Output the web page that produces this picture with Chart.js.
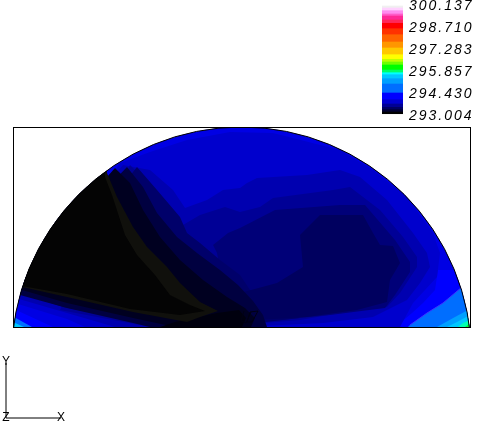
<!DOCTYPE html>
<html>
<head>
<meta charset="utf-8">
<script src="https://cdn.jsdelivr.net/npm/chart.js@4"></script>
<style>
html,body{margin:0;padding:0;background:#fff;width:480px;height:436px;overflow:hidden}
canvas{position:absolute;display:block}
#field{left:0;top:0}
#bar{left:370px;top:0}
#triad{left:0;top:350px}
</style>
</head>
<body>
<canvas id="field" width="480" height="436"></canvas>
<canvas id="bar" width="110" height="125"></canvas>
<canvas id="triad" width="80" height="80"></canvas>
<script>
// Colour-scale data
const tickLabels = [293.004, 294.430, 295.857, 297.283, 298.710, 300.137];
const bandEdges = [293.088,293.199,293.348,293.503,293.717,293.996,294.431,295.014,295.358,295.617,295.747,295.922,296.247,296.441,296.616,296.914,297.349,297.738,298.211,298.600,298.951,299.165,299.424,299.554,299.768,299.943,300.073];
const bandColors = ['#000000','#000032','#000064','#000096','#0000d2','#0000ff','#006eff','#00a0ff','#00c8ff','#00ffff','#00ff64','#00ff00','#6eff00','#beff00','#ffff00','#ffc800','#ff9600','#ff6400','#ff3200','#ff0000','#ff285a','#ff2896','#ff5ac8','#ff8cf0','#ffd2ff','#f0f0f0'];

// Contour regions in model units, outermost first
const fullField = [[0,0],[457,0],[457,200],[0,200]];
const cornerR1 = [[425,57],[422,37],[410,24],[399,14],[387,4],[387,0],[457,0],[457,57]];
const cornerR2 = [[449,40],[430,24],[414,14],[397,2],[395,0],[457,0],[457,40]];
const cornerR3 = [[455,17],[442,10],[424,0],[457,0],[457,17]];
const cornerR4 = [[457,12],[444,5],[434,0],[457,0]];
const cornerR5 = [[457,7],[450,4],[445,0],[457,0]];
const cornerR6 = [[457,4],[452,0],[457,0]];
const cornerL1 = [[0,22],[3,17],[40,0],[0,0]];
const cornerL2 = [[0,14],[1,10],[19,0],[0,0]];
const cornerL3 = [[0,5],[11,0],[0,0]];
const level2 = [[105,161],[107,164],[137,175],[174,187],[217,195],[260,194],[327,177],[360,157],[394,130],[420,94],[427,74],[424,50],[400,24],[387,0],[72,0],[54,8],[5,23],[0,32]];
const level3 = [[110,162],[137,157],[160,137],[172,119],[194,127],[210,137],[227,139],[234,144],[244,149],[294,152],[327,157],[347,150],[374,127],[400,94],[414,74],[417,60],[407,44],[394,27],[360,10],[310,4],[227,0],[102,0],[54,14],[6,28],[0,37]];
const level4 = [[117,162],[132,147],[152,124],[170,102],[187,112],[212,120],[227,115],[247,120],[260,129],[320,137],[337,140],[367,117],[390,90],[404,70],[404,60],[387,34],[374,20],[344,17],[287,7],[227,2],[137,0],[47,17]];
const level5 = [[215,94],[227,99],[262,117],[327,122],[352,122],[382,87],[397,65],[397,55],[382,32],[372,19],[317,12],[247,5],[227,2],[212,27],[204,74],[200,82]];
const diag0 = [[124,160],[144,137],[167,110],[174,94],[187,84],[207,67],[227,52],[237,37],[287,9],[227,2],[150,0],[50,20],[20,30]];
const level6 = [[307,112],[350,112],[360,94],[367,82],[380,81],[387,64],[377,47],[374,25],[344,17],[294,10],[244,7],[207,5],[197,27],[227,34],[264,44],[290,60],[287,92]];
const diag1 = [[114,160],[130,140],[144,114],[164,90],[184,74],[207,57],[225,42],[240,26],[250,12],[254,0],[137,0],[120,4],[54,19],[7,32],[0,42]];
const diag2 = [[102,159],[117,144],[130,117],[147,90],[167,67],[190,47],[214,30],[232,19],[242,9],[238,0],[162,0],[120,9],[54,24],[9,37],[0,44]];
const diag3 = [[162,5],[204,14],[226,17],[233,9],[229,0],[147,0]];
const coldEdge = [[94,154],[104,130],[120,100],[134,80],[154,60],[167,44],[187,25],[205,16],[187,10],[174,5],[120,15],[54,30],[9,40],[0,42],[0,200],[94,200]];
const coldCore = [[92,150],[99,132],[112,92],[124,72],[142,52],[157,32],[177,22],[192,16],[167,12],[117,18],[54,33],[9,41],[0,43],[0,200],[87,200]];

const regions = [
  [fullField,'#0000e4'],[cornerR1,'#0000ff'],[cornerR2,'#006eff'],[cornerR3,'#00a0ff'],[cornerR4,'#00c8ff'],[cornerR5,'#00ffb4'],[cornerR6,'#00ff32'],
  [cornerL1,'#0000ff'],[cornerL2,'#006eff'],[cornerL3,'#00c8ff'],
  [level2,'#0000cd'],[level3,'#0000b0'],[level4,'#000096'],[level5,'#000078'],[diag0,'#00006a'],[level6,'#00005f'],
  [diag1,'#000040'],[diag2,'#000020'],[diag3,'#00000e'],[coldEdge,'#10100c'],[coldCore,'#040404']
];

// Thin contour traces, drawn over the regions
const traceCorner = [[449,40],[430,24],[414,14],[397,2]];
const traceQuad1 = [[245,16],[239,5],[234,5],[237,15],[245,16]];
const traceQuad2 = [[238,15],[233,4],[228,6],[231,16]];
const traces = [[traceCorner,'#3c32ff'],[traceQuad1,'#000014'],[traceQuad2,'#000014']];

const rimCenter = [228.5,-30];
const rimRadius = 230;
const xRange = [0,457];
const yRange = [0,200];

const triadX = [[0,0],[1,0]];
const triadY = [[0,0],[0,1]];
const triadLabels = [['X',1,0],['Y',0,1.03],['Z',0,0]];

const pts = a => a.map(p => ({x:p[0],y:p[1]}));
const rimPath = (chart) => {
  const {x,y} = chart.scales;
  const c = chart.ctx;
  c.beginPath();
  c.arc(x.getPixelForValue(rimCenter[0]), y.getPixelForValue(rimCenter[1]), rimRadius, 0, Math.PI*2);
};
const fieldPlugin = {
  id:'fieldPlugin',
  beforeDatasetsDraw(chart){
    const c = chart.ctx;
    c.save();
    rimPath(chart);
    c.clip();
  },
  afterDatasetsDraw(chart){
    const c = chart.ctx;
    c.restore();
    const a = chart.chartArea;
    c.save();
    c.beginPath();
    c.rect(a.left,a.top,a.right-a.left,a.bottom-a.top);
    c.clip();
    rimPath(chart);
    c.strokeStyle = '#000';
    c.lineWidth = 1;
    c.stroke();
    c.restore();
    c.save();
    c.strokeStyle = '#000';
    c.lineWidth = 1;
    c.strokeRect(a.left+0.5,a.top+0.5,a.right-a.left,a.bottom-a.top);
    c.restore();
  }
};

const fieldSets = regions.map(r => ({
  data:pts(r[0]),showLine:true,fill:'shape',backgroundColor:r[1],borderWidth:0,pointRadius:0,tension:0
})).concat(traces.map(t => ({
  data:pts(t[0]),showLine:true,fill:false,borderColor:t[1],borderWidth:1,pointRadius:0,tension:0
})));

new Chart(document.getElementById('field'),{
  type:'scatter',
  data:{datasets:fieldSets.reverse()},
  options:{
    responsive:false,animation:false,events:[],
    layout:{padding:{left:13,right:10,top:127,bottom:109}},
    plugins:{legend:{display:false},tooltip:{enabled:false}},
    scales:{
      x:{type:'linear',display:false,min:xRange[0],max:xRange[1]},
      y:{type:'linear',display:false,min:yRange[0],max:yRange[1]}
    }
  },
  plugins:[fieldPlugin]
});

new Chart(document.getElementById('bar'),{
  type:'bar',
  data:{
    labels:['T'],
    datasets:bandColors.map((col,i)=>({
      data:[[bandEdges[i],bandEdges[i+1]]],backgroundColor:col,borderWidth:0,grouped:false,barPercentage:1,categoryPercentage:1
    }))
  },
  options:{
    responsive:false,animation:false,events:[],
    layout:{padding:{left:12,right:0,top:5,bottom:10}},
    plugins:{legend:{display:false},tooltip:{enabled:false}},
    scales:{
      x:{display:false},
      y:{
        position:'right',min:tickLabels[0],max:tickLabels[tickLabels.length-1],
        grid:{display:false,drawTicks:false},border:{display:false},
        afterBuildTicks(s){s.ticks = tickLabels.map(v=>({value:v}));},
        afterFit(s){s.width = 77;s.paddingTop = 0;s.paddingBottom = 0;},
        ticks:{
          autoSkip:false,padding:6,color:'#000',align:'center',labelOffset:1,
          font:{family:'"Liberation Sans"',style:'italic',size:14},
          callback:v=>v.toFixed(3)
        }
      }
    }
  },
  plugins:[{id:'spacing',beforeDraw(chart){chart.ctx.letterSpacing='2px';}}]
});

new Chart(document.getElementById('triad'),{
  type:'scatter',
  data:{datasets:[triadX,triadY].map(a=>({data:pts(a),showLine:true,borderColor:'#000',borderWidth:1,pointRadius:0,clip:false}))},
  options:{
    responsive:false,animation:false,events:[],
    layout:{padding:{left:6,right:19,top:13,bottom:12}},
    plugins:{legend:{display:false},tooltip:{enabled:false}},
    scales:{
      x:{type:'linear',display:false,min:0,max:1},
      y:{type:'linear',display:false,min:0,max:1}
    }
  },
  plugins:[{id:'triadText',afterDatasetsDraw(chart){
    const c = chart.ctx;
    c.save();
    c.fillStyle='#000';
    c.font='12px "Liberation Sans"';
    c.textAlign='center';
    c.textBaseline='middle';
    triadLabels.forEach(l=>c.fillText(l[0],chart.scales.x.getPixelForValue(l[1]),chart.scales.y.getPixelForValue(l[2])));
    c.restore();
  }}]
});
</script>
</body>
</html>
